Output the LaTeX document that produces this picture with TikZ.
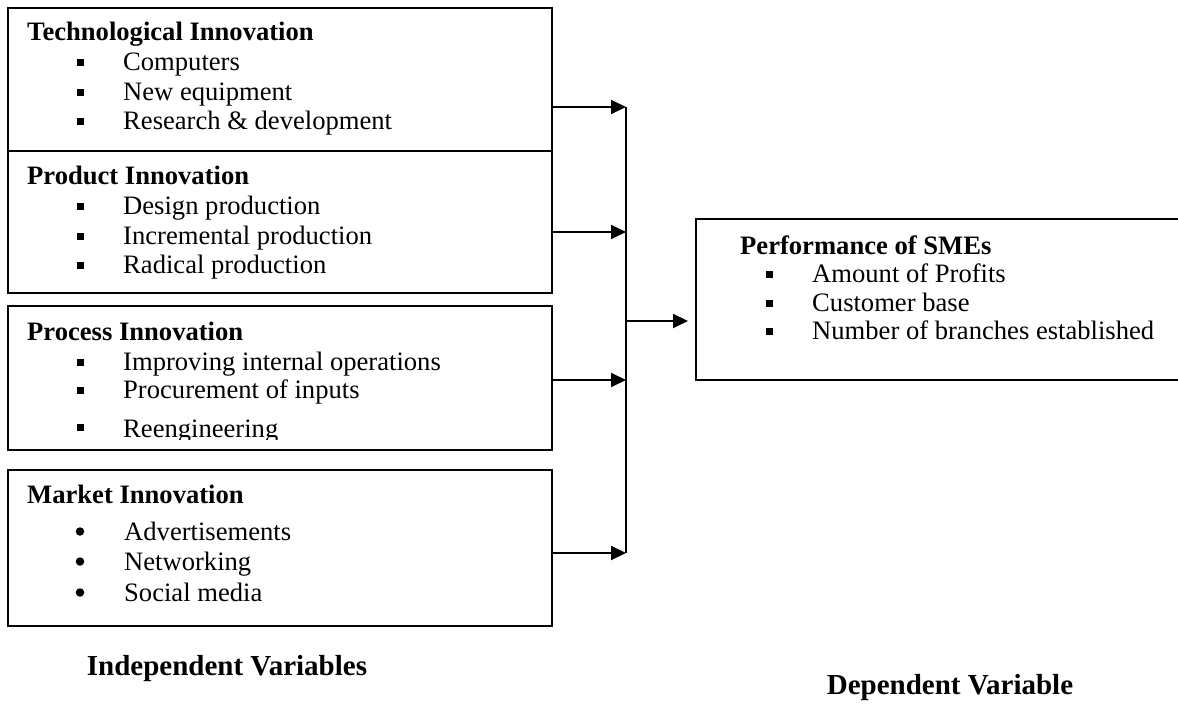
\documentclass[tikz,border=0pt]{standalone}
\usepackage{fontspec}
\setmainfont{Liberation Serif}
\usetikzlibrary{arrows.meta}
\begin{document}
\begin{tikzpicture}[x=1pt,y=-1pt,
  box/.style={draw, line width=1.8pt, rectangle, inner sep=0pt, anchor=north west},
  ttl/.style={anchor=base west, inner sep=0pt, font=\fontsize{26.6}{30}\selectfont\bfseries},
  itm/.style={anchor=base west, inner sep=0pt, font=\fontsize{26.6}{30}\selectfont},
  sqb/.style={fill, rectangle, minimum size=7pt, inner sep=0pt},
  cib/.style={fill, circle, minimum size=8.5pt, inner sep=0pt},
  arr/.style={line width=2pt, -{Triangle[length=15pt,width=14pt]}},
  vline/.style={line width=1.6pt},
  lab/.style={inner sep=0pt, font=\fontsize{29}{32}\selectfont\bfseries}
]
\useasboundingbox (0,0) rectangle (1178,708);

% boxes
\node[box, minimum width=544pt, minimum height=143pt] (tech) at (7,7) {};
\node[box, minimum width=544pt, minimum height=142pt] (prod) at (7,150) {};
\node[box, minimum width=544pt, minimum height=144pt] (proc) at (7,305) {};
\node[box, minimum width=544pt, minimum height=156pt] (mark) at (7,469) {};
\node[box, minimum width=600pt, minimum height=161pt] (perf) at (695,218) {};

% Technological Innovation
\node[ttl] (t1) at (27,41) {Technological Innovation};
\node[sqb] (b11) at (80,62.5) {};
\node[itm] (i11) at (123,71) {Computers};
\node[sqb] (b12) at (80,92.5) {};
\node[itm] (i12) at (123,101) {New equipment};
\node[sqb] (b13) at (80,121.5) {};
\node[itm] (i13) at (123,130) {Research \& development};

% Product Innovation
\node[ttl] (t2) at (27,185) {Product Innovation};
\node[sqb] (b21) at (80,206.5) {};
\node[itm] (i21) at (123,215) {Design production};
\node[sqb] (b22) at (80,236.5) {};
\node[itm] (i22) at (123,245) {Incremental production};
\node[sqb] (b23) at (80,265.5) {};
\node[itm] (i23) at (123,274) {Radical production};

% Process Innovation
\node[ttl] (t3) at (27,341) {Process Innovation};
\node[sqb] (b31) at (80,362.5) {};
\node[itm] (i31) at (123,371) {Improving internal operations};
\node[sqb] (b32) at (80,390.5) {};
\node[itm] (i32) at (123,399) {Procurement of inputs};
\node[sqb] (b33) at (80,427.5) {};
\begin{scope}
\clip (10,400) rectangle (548,439);
\node[itm] (i33) at (123,437) {Reengineering};
\end{scope}

% Market Innovation
\node[ttl] (t4) at (27,503) {Market Innovation};
\node[cib] (b41) at (80,531.5) {};
\node[itm] (i41) at (124,540) {Advertisements};
\node[cib] (b42) at (80,561.5) {};
\node[itm] (i42) at (124,570) {Networking};
\node[cib] (b43) at (80,592.5) {};
\node[itm] (i43) at (124,601) {Social media};

% Performance of SMEs
\node[ttl] (t5) at (740,255) {Performance of SMEs};
\node[sqb] (b51) at (769,274.5) {};
\node[itm] (i51) at (812,283) {Amount of Profits};
\node[sqb] (b52) at (769,303.5) {};
\node[itm] (i52) at (812,312) {Customer base};
\node[sqb] (b53) at (769,331.5) {};
\node[itm] (i53) at (812,340) {Number of branches established};

% connectors
\coordinate (a1) at (626,107);
\coordinate (a2) at (626,232);
\coordinate (a3) at (626,380);
\coordinate (a4) at (626,553);
\coordinate (j) at (626,321);
\draw[arr] (tech.east |- a1) -- (a1);
\draw[arr] (prod.east |- a2) -- (a2);
\draw[arr] (proc.east |- a3) -- (a3);
\draw[arr] (mark.east |- a4) -- (a4);
\draw[vline] (a1) -- (a4);
\draw[arr, shorten >=7pt] (j) -- (perf.west |- j);

% bottom labels
\node[lab] (indep) at (227,669) {Independent Variables};
\node[lab] (dep) at (950,688) {Dependent Variable};
\end{tikzpicture}
\end{document}
